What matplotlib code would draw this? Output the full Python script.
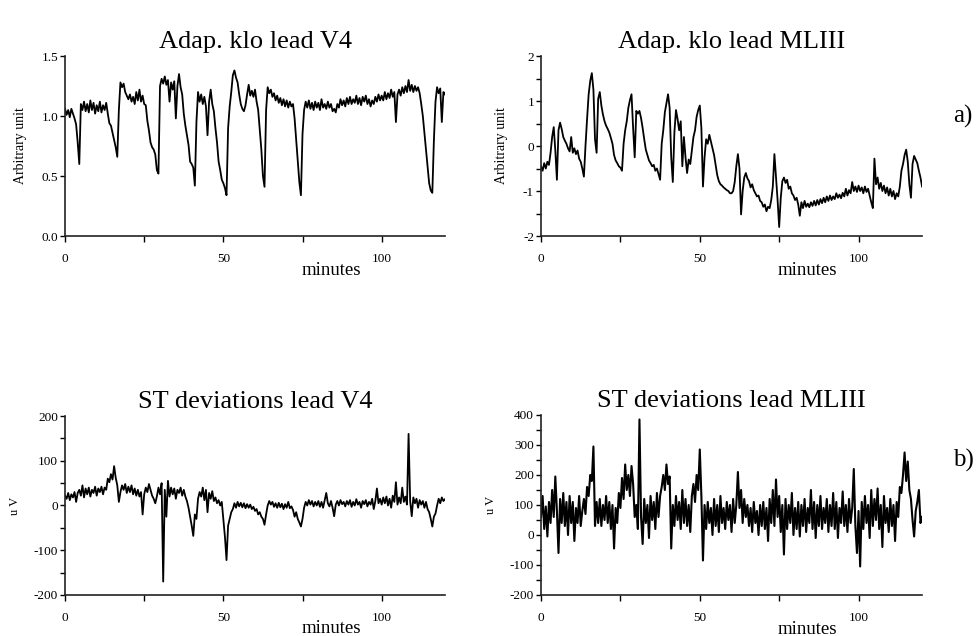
import numpy as np
import matplotlib.pyplot as plt
from matplotlib.ticker import MultipleLocator

plt.rcParams['font.family'] = ['Liberation Serif', 'DejaVu Serif']

# one sample every half minute, 0 .. 120 min
minutes = np.arange(0, 120.5, 0.5)

# Adap. klo, lead V4 (arbitrary unit)
klo_v4 = [
    1.06, 1.01, 1.05, 0.99, 1.06, 1.02, 0.98, 0.93, 0.78, 0.60, 1.10, 1.05, 1.12, 1.04, 1.10, 1.03, 1.13, 1.05, 1.11, 1.02,
    1.09, 1.04, 1.12, 1.03, 1.09, 1.05, 1.11, 1.02, 0.94, 0.92, 0.86, 0.80, 0.74, 0.66, 1.05, 1.28, 1.24, 1.27, 1.20, 1.17,
    1.14, 1.18, 1.12, 1.16, 1.10, 1.20, 1.13, 1.22, 1.12, 1.17, 1.10, 1.09, 0.96, 0.88, 0.78, 0.74, 0.72, 0.68, 0.55, 0.52,
    1.25, 1.31, 1.27, 1.33, 1.26, 1.30, 1.12, 1.28, 1.22, 1.29, 0.98, 1.25, 1.35, 1.24, 1.18, 1.02, 0.92, 0.84, 0.76, 0.62,
    0.60, 0.57, 0.42, 0.95, 1.20, 1.12, 1.18, 1.10, 1.16, 1.08, 0.84, 1.12, 1.22, 1.10, 1.04, 0.90, 0.78, 0.62, 0.55, 0.47,
    0.44, 0.40, 0.34, 0.90, 1.08, 1.20, 1.34, 1.38, 1.32, 1.28, 1.18, 1.10, 1.06, 1.04, 1.09, 1.18, 1.26, 1.17, 1.21, 1.16,
    1.22, 1.12, 1.05, 0.88, 0.72, 0.50, 0.41, 1.05, 1.24, 1.19, 1.22, 1.16, 1.19, 1.13, 1.17, 1.11, 1.15, 1.09, 1.14, 1.08,
    1.13, 1.07, 1.12, 1.08, 1.10, 0.98, 0.80, 0.62, 0.45, 0.34, 0.85, 1.05, 1.12, 1.07, 1.13, 1.06, 1.11, 1.05, 1.12, 1.07,
    1.11, 1.05, 1.14, 1.07, 1.10, 1.06, 1.12, 1.07, 1.10, 1.04, 1.06, 1.03, 1.10, 1.07, 1.14, 1.09, 1.13, 1.08, 1.15, 1.10,
    1.16, 1.10, 1.14, 1.11, 1.17, 1.10, 1.15, 1.09, 1.16, 1.12, 1.17, 1.10, 1.14, 1.08, 1.13, 1.10, 1.16, 1.12, 1.18, 1.13,
    1.17, 1.13, 1.20, 1.14, 1.19, 1.15, 1.22, 1.16, 1.20, 0.95, 1.18, 1.22, 1.17, 1.24, 1.19, 1.25, 1.20, 1.30, 1.21, 1.26,
    1.20, 1.25, 1.21, 1.24, 1.19, 1.10, 1.00, 0.86, 0.72, 0.58, 0.44, 0.38, 0.36, 0.80, 1.12, 1.24, 1.19, 1.23, 0.95, 1.20,
    1.18,
]

# Adap. klo, lead MLIII (arbitrary unit)
klo_ml3 = [
    -0.45, -0.55, -0.38, -0.50, -0.35, -0.42, -0.15, 0.20, 0.42, -0.10, -0.75, 0.35, 0.52, 0.38, 0.20, 0.12, 0.05, -0.05, -0.12, 0.20,
    -0.15, -0.05, -0.18, -0.10, -0.28, -0.35, -0.50, -0.68, 0.00, 0.60, 1.15, 1.45, 1.62, 1.25, 0.15, -0.15, 1.05, 1.20, 0.90, 0.70,
    0.55, 0.45, 0.38, 0.30, 0.18, 0.05, -0.20, -0.32, -0.38, -0.45, -0.48, -0.55, 0.05, 0.35, 0.55, 0.85, 1.02, 1.15, 0.40, -0.25,
    0.78, 0.72, 0.78, 0.62, 0.40, 0.15, -0.08, -0.20, -0.32, -0.38, -0.45, -0.42, -0.55, -0.50, -0.62, -0.75, 0.05, 0.35, 0.75, 0.95,
    1.15, 0.85, -0.25, -0.80, 0.30, 0.80, 0.60, 0.35, 0.55, -0.45, 0.20, -0.25, -0.60, -0.30, -0.40, -0.10, 0.20, 0.35, 0.65, 0.80,
    0.90, 0.40, -0.90, -0.25, 0.15, 0.05, 0.25, 0.10, -0.05, -0.20, -0.42, -0.65, -0.78, -0.85, -0.88, -0.92, -0.95, -0.98, -1.00, -1.05,
    -1.05, -1.00, -0.80, -0.45, -0.18, -0.50, -1.52, -1.00, -0.70, -0.60, -0.72, -0.78, -0.92, -0.85, -0.98, -1.05, -1.12, -1.10, -1.22, -1.25,
    -1.35, -1.30, -1.45, -1.35, -1.38, -1.20, -0.90, -0.18, -0.70, -1.20, -1.80, -1.15, -0.78, -0.70, -0.82, -0.75, -0.95, -0.90, -1.05, -1.10,
    -1.20, -1.15, -1.30, -1.55, -1.25, -1.38, -1.22, -1.35, -1.28, -1.36, -1.25, -1.33, -1.22, -1.32, -1.20, -1.30, -1.18, -1.27, -1.15, -1.25,
    -1.12, -1.22, -1.10, -1.20, -1.12, -1.18, -1.05, -1.15, -1.08, -1.16, -1.04, -1.12, -0.95, -1.10, -0.98, -1.05, -0.80, -1.00, -0.90, -1.02,
    -0.88, -1.00, -0.92, -1.05, -0.90, -1.02, -0.95, -1.10, -1.25, -1.38, -0.28, -0.85, -0.70, -0.95, -0.82, -1.00, -0.88, -1.05, -0.92, -1.10,
    -0.95, -1.12, -1.00, -1.18, -1.05, -1.12, -0.90, -0.55, -0.40, -0.20, -0.08, -0.35, -0.85, -1.15, -0.40, -0.22, -0.30, -0.38, -0.55, -0.70,
    -0.90,
]

# ST deviations, lead V4 (uV)
st_v4 = [
    22, 15, 28, 12, 25, 18, 30, 8, 28, 35, 22, 45, 18, 38, 25, 40, 20, 35, 28, 42,
    22, 38, 30, 42, 25, 40, 35, 60, 52, 70, 58, 88, 62, 45, 8, 30, 45, 35, 48, 28,
    42, 30, 45, 25, 38, 22, 35, 20, 30, -20, 25, 40, 30, 48, 35, 22, 15, 5, 20, 40,
    25, 50, -170, 35, -25, 55, 20, 40, 25, 38, 15, 35, 28, 40, 22, 35, 20, 10, -5, -25,
    -45, -68, -20, -30, 15, 30, 20, 40, 12, 35, -15, 28, 15, 32, 10, 18, 5, 12, 0, 8,
    -30, -70, -122, -45, -30, -15, -8, 5, -5, 8, -2, 6, -4, 5, -6, 3, -5, 2, -8, -3,
    -12, -8, -20, -15, -25, -30, -43, -20, 0, 10, 2, 8, -3, 5, -5, 6, -4, 4, -8, 3,
    -5, 8, -6, -2, -10, -25, -15, -30, -38, -47, -30, -5, 8, 0, 12, 2, 10, -2, 8, 0,
    10, -3, 8, -5, 12, 28, 5, -2, 10, -5, -24, 2, 10, 0, 12, 3, 8, -2, 10, 2,
    12, -3, 8, 0, 14, 2, 8, -5, 10, 3, 12, -2, 8, 2, 15, -8, 10, 38, 5, 15,
    2, 18, 5, 20, 0, 15, -5, 22, 8, 52, 2, 18, 5, 40, 8, 20, 2, 160, 10, -24,
    18, 5, 15, -5, 12, 2, 10, -5, 8, -8, -15, -30, -47, -25, -18, 0, 15, 5, 18, 10,
    14,
]

# ST deviations, lead MLIII (uV)
st_ml3 = [
    60, 130, 20, 95, -5, 110, 40, 150, 60, 195, 80, -60, 120, 40, 140, 30, 110, 0, 130, 40,
    110, -20, 90, 40, 130, 30, 80, 120, 70, 160, 130, 200, 180, 295, 30, 110, 40, 120, 30, 100,
    50, 130, 40, 110, 20, 100, -45, 90, 40, 140, 90, 190, 120, 235, 150, 200, 130, 230, 170, 60,
    100, 20, 385, 60, -30, 120, 40, 100, -10, 130, 50, 110, 20, 140, 60, 130, 160, 200, 150, 235,
    170, 195, -45, 100, 30, 130, 50, 110, 20, 150, 40, 120, 30, 100, 10, 130, 170, 110, 200, 150,
    285, 130, -85, 100, 20, 110, 40, 90, 0, 120, 30, 100, 10, 130, 40, 90, 20, 110, 50, 100,
    10, 120, 40, 100, 210, 90, 150, 40, 120, 60, 100, 30, 90, 10, 110, 40, 80, 0, 100, 30,
    110, 20, 90, -20, 120, 40, 150, 30, 185, 60, 130, 10, 100, -65, 120, 20, 100, 40, 140, 0,
    90, 20, 110, -5, 100, 30, 120, 10, 90, 40, 150, 20, 110, -10, 100, 30, 130, 20, 90, 40,
    120, 10, 100, 30, 140, 20, 110, -10, 90, 40, 145, 30, 100, 10, 120, 40, 90, 220, 30, -60,
    80, -105, 110, 20, 130, 40, 100, -10, 150, 30, 120, 50, 155, 20, 100, -40, 130, 40, 90, 10,
    120, 30, 100, -20, 110, 60, 160, 140, 200, 275, 180, 245, 150, 120, 50, -5, 80, 110, 150, 40,
    60,
]

x_ticks = [0, 25, 50, 75, 100]
x_tick_labels = ['0', '', '50', '', '100']

panels = [
    # rect, data, title, ylim, major ticks, labels, minor step, ylabel, line width
    ([0.0665, 0.6289, 0.3885, 0.2830], klo_v4, 'Adap. klo lead V4', (0, 1.5),
     [0.0, 0.5, 1.0, 1.5], ['0.0', '0.5', '1.0', '1.5'], None, 'Arbitrary unit', 1.3),
    ([0.5532, 0.6289, 0.3896, 0.2830], klo_ml3, 'Adap. klo lead MLIII', (-2, 2),
     [-2, -1, 0, 1, 2], ['-2', '-1', '0', '1', '2'], 0.5, 'Arbitrary unit', 1.3),
    ([0.0665, 0.0645, 0.3885, 0.2814], st_v4, 'ST deviations lead V4', (-200, 200),
     [-200, -100, 0, 100, 200], ['-200', '-100', '0', '100', '200'], 50, 'u V', 1.3),
    ([0.5532, 0.0645, 0.3896, 0.2830], st_ml3, 'ST deviations lead MLIII', (-200, 400),
     [-200, -100, 0, 100, 200, 300, 400], ['-200', '-100', '0', '100', '200', '300', '400'], 50, 'u V', 1.5),
]

fig = plt.figure(figsize=(9.78, 6.36), dpi=100)

ylabel_x = [21, 502, 15, 491]

for (rect, data, title, ylim, yt, ytl, yminor, ylab, lw), lx in zip(panels, ylabel_x):
    ax = fig.add_axes(rect)
    ax.plot(minutes, data, color='black', lw=lw)
    ax.set_xlim(0, 120)
    ax.set_ylim(*ylim)
    for s in ['top', 'right']:
        ax.spines[s].set_visible(False)
    for s in ['left', 'bottom']:
        ax.spines[s].set_linewidth(1.2)
        ax.spines[s].set_color('#222222')
    ax.set_xticks(x_ticks)
    ax.set_xticklabels(x_tick_labels)
    ax.set_yticks(yt)
    ax.set_yticklabels(ytl)
    if yminor:
        ax.yaxis.set_minor_locator(MultipleLocator(yminor))
    ax.tick_params(axis='x', direction='out', length=4, width=1, pad=8, labelsize=9.5)
    ax.tick_params(axis='y', which='both', direction='out', length=3.5, width=1, pad=1.5, labelsize=9.5)
    ax.set_title(title, fontsize=19, pad=6)
    # "minutes" sits under the axis between 50 and 100
    ax.text(84, -0.19, 'minutes', transform=ax.get_xaxis_transform(),
            ha='center', va='center', fontsize=13.5)
    # y label at a fixed figure position, as in the reference
    fig.text(lx / 978, rect[1] + rect[3] / 2, ylab, rotation=90,
             ha='center', va='center', fontsize=10 if ylab != 'u V' else 9)

fig.text(963 / 978, 1 - 116 / 636, 'a)', ha='center', va='center', fontsize=18)
fig.text(963 / 978, 1 - 460 / 636, 'b)', ha='center', va='center', fontsize=18)

fig.savefig('out.png', dpi=100)
